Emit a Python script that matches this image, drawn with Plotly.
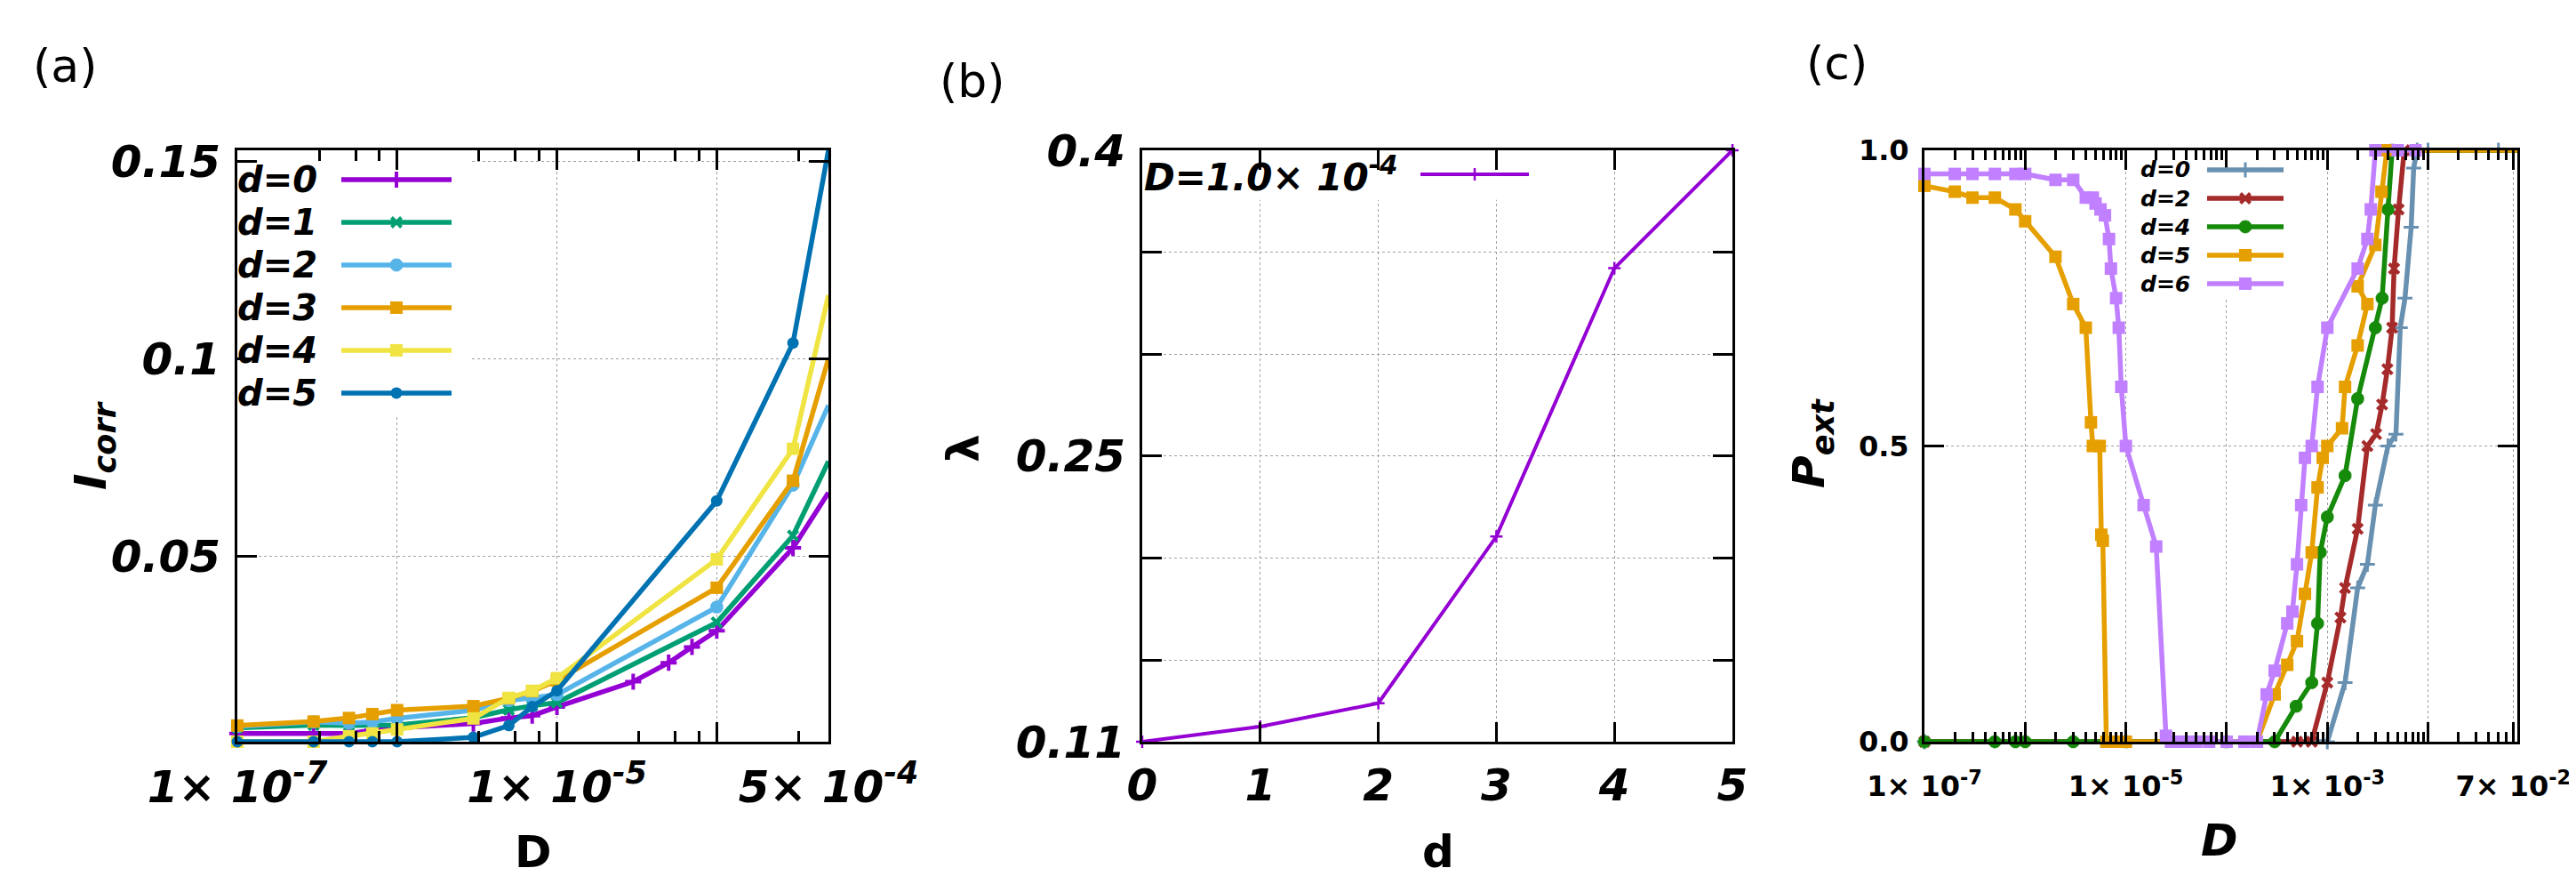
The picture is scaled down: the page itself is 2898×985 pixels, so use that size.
import math
import plotly.graph_objects as go

W, H = 2898, 985

# ---------------- Panel (a) data ----------------
D_a = [1e-7, 3e-7, 5e-7, 7e-7, 1e-6, 3e-6, 5e-6, 7e-6, 1e-5, 1e-4, 3e-4, 5e-4]
D_a0 = [1e-7, 3e-7, 5e-7, 7e-7, 1e-6, 3e-6, 5e-6, 7e-6, 1e-5, 3e-5, 5e-5, 7e-5, 1e-4, 3e-4, 5e-4]
I_d0 = [0.0051, 0.0051, 0.0051, 0.0059, 0.0065, 0.0076, 0.0090, 0.0096, 0.0118, 0.0182, 0.0230, 0.0270, 0.0311, 0.0521, 0.0661]
I_d1 = [0.0065, 0.0072, 0.0071, 0.0071, 0.0072, 0.0091, 0.0111, 0.0121, 0.0129, 0.0332, 0.0552, 0.0740]
I_d2 = [0.0068, 0.0080, 0.0077, 0.0080, 0.0089, 0.0110, 0.0134, 0.0141, 0.0149, 0.0371, 0.0680, 0.0882]
I_d3 = [0.0071, 0.0081, 0.0090, 0.0100, 0.0110, 0.0120, 0.0140, 0.0158, 0.0185, 0.0420, 0.0691, 0.1000]
I_d4 = [0.0030, 0.0030, 0.0044, 0.0051, 0.0061, 0.0089, 0.0141, 0.0159, 0.0191, 0.0492, 0.0772, 0.1161]
I_d5 = [0.0030, 0.0030, 0.0030, 0.0030, 0.0030, 0.0041, 0.0071, 0.0119, 0.0159, 0.0640, 0.1040, 0.1528]
labels_a = ["d=0", "d=1", "d=2", "d=3", "d=4", "d=5"]

# ---------------- Panel (b) data ----------------
d_b = [0, 1, 2, 3, 4, 5]
lam_b = [0.110, 0.1174, 0.1289, 0.2106, 0.3422, 0.400]
label_b = "D=1.0× 10<sup>-4</sup>"

# ---------------- Panel (c) data ----------------
D_c0 = [1e-7, 1e-3, 1.5e-3, 2e-3, 2.5e-3, 3e-3, 4e-3, 4.8e-3, 5.3e-3, 5.9e-3, 6.8e-3, 7.2e-3, 7.8e-3, 1e-2, 5e-2, 7.7e-2]
P_c0 = [0, 0, 0.10, 0.26, 0.30, 0.40, 0.50, 0.52, 0.70, 0.75, 0.87, 0.97, 1.0, 1.0, 1.0, 1.0]
D_c2 = [1e-7, 5e-4, 7e-4, 1e-3, 1.35e-3, 1.5e-3, 2e-3, 2.5e-3, 3.05e-3, 3.5e-3, 3.95e-3, 4.4e-3, 4.6e-3, 5.1e-3, 5.8e-3, 7.7e-2]
P_c2 = [0, 0, 0, 0.10, 0.21, 0.26, 0.36, 0.50, 0.52, 0.57, 0.63, 0.70, 0.80, 0.90, 1.0, 1.0]
D_c4 = [1e-7, 5e-7, 8e-7, 1e-6, 3e-6, 1e-5, 1e-4, 3e-4, 4.9e-4, 7e-4, 8e-4, 8.5e-4, 1e-3, 1.5e-3, 2e-3, 3e-3, 3.5e-3, 4e-3, 4.4e-3, 7.7e-2]
P_c4 = [0, 0, 0, 0, 0, 0, 0, 0, 0.06, 0.10, 0.20, 0.32, 0.38, 0.45, 0.58, 0.70, 0.75, 0.90, 1.0, 1.0]
D_c5 = [1e-7, 2e-7, 3e-7, 5e-7, 8e-7, 1e-6, 2e-6, 3e-6, 4e-6, 4.5e-6, 4.7e-6, 5.5e-6, 5.7e-6, 5.9e-6, 6.4e-6,
        7e-6, 8e-6, 9e-6, 1e-5, 2e-4, 3e-4, 4e-4, 5e-4, 6e-4, 7e-4, 8e-4, 9e-4, 1e-3, 1.4e-3, 1.5e-3,
        2e-3, 2.5e-3, 2e-3, 3e-3, 3.45e-3, 3.9e-3, 7.7e-2]
P_c5 = [0.94, 0.93, 0.92, 0.92, 0.90, 0.88, 0.82, 0.74, 0.70, 0.54, 0.50, 0.50, 0.35, 0.34, 0,
        0, 0, 0, 0, 0, 0.08, 0.13, 0.17, 0.25, 0.32, 0.43, 0.48, 0.50, 0.53, 0.60,
        0.67, 0.74, 0.77, 0.84, 0.93, 1.0, 1.0]
D_c6 = [1e-7, 2e-7, 3e-7, 5e-7, 8e-7, 1e-6, 2e-6, 3e-6, 4e-6, 4.7e-6, 5e-6, 5.6e-6, 6.2e-6, 6.8e-6, 7.1e-6,
        8e-6, 8.5e-6, 9e-6, 1e-5, 1.5e-5, 2e-5, 2.5e-5, 2.8e-5, 3.3e-5, 4e-5, 5e-5, 6.7e-5, 1e-4, 1.5e-4, 2e-4,
        2.5e-4, 3e-4, 4e-4, 4.5e-4, 5e-4, 5.5e-4, 6e-4, 7e-4, 8e-4, 1e-3, 2e-3, 2.5e-3, 2.7e-3, 3e-3, 5e-3, 7.5e-3]
P_c6 = [0.96, 0.96, 0.96, 0.96, 0.96, 0.96, 0.95, 0.95, 0.92, 0.92, 0.91, 0.90, 0.89, 0.85, 0.80,
        0.75, 0.70, 0.60, 0.50, 0.40, 0.33, 0.01, 0, 0, 0, 0, 0, 0, 0, 0,
        0.08, 0.12, 0.20, 0.22, 0.30, 0.40, 0.48, 0.50, 0.60, 0.70, 0.80, 0.85, 0.90, 1.0, 1.0, 1.0]
labels_c = ["d=0", "d=2", "d=4", "d=5", "d=6"]

# ---------------- styles ----------------
FONT = "DejaVu Sans"
cols_a = ["#9400d3", "#009e73", "#56b4e9", "#e69f00", "#f0e442", "#0072b2"]
syms_a = [("cross-thin", 13, 4), ("x-thin", 11, 4), ("asterisk", 12, 5),
          ("square", 14, 0), ("square", 14, 0), ("circle", 13, 0)]
cols_c = ["#6890b0", "#a52a2a", "#168a0a", "#e69f00", "#c080ff"]
syms_c = [("cross-thin", 12, 3), ("x-thin", 11, 4), ("asterisk", 12, 5),
          ("square", 14, 0), ("square", 14, 0)]

fig = go.Figure()

def add(x, y, col, sym, xa, ya, leg, lw):
    s, sz, mlw = sym
    fig.add_trace(go.Scatter(
        x=x, y=y, mode="lines+markers", name=" ", xaxis=xa, yaxis=ya, legend=leg,
        line=dict(color=col, width=lw), cliponaxis=False,
        marker=dict(symbol=s, size=sz, color=col, line=dict(color=col, width=mlw))))

series_a = [(D_a0, I_d0), (D_a, I_d1), (D_a, I_d2), (D_a, I_d3), (D_a, I_d4), (D_a, I_d5)]
for (x, y), c, s in zip(series_a, cols_a, syms_a):
    add(x, y, c, s, "x", "y", "legend", 5.5)

add(d_b, lam_b, "#9400d3", ("cross-thin", 10, 2.5), "x2", "y2", "legend2", 4)

series_c = [(D_c0, P_c0), (D_c2, P_c2), (D_c4, P_c4), (D_c5, P_c5), (D_c6, P_c6)]
for (x, y), c, s in zip(series_c, cols_c, syms_c):
    add(x, y, c, s, "x3", "y3", "legend3", 5.5)

# ---------------- axes ----------------
def px_x(p):
    return p / W

def px_y(p):
    return 1 - p / H

TOP, BOT = 161, 826
ydom = [px_y(BOT), px_y(TOP)]

def axis(**kw):
    d = dict(showline=True, linecolor="black", linewidth=3, mirror="ticks",
             ticks="inside", ticklen=22, tickwidth=3, tickcolor="black",
             showgrid=True, gridcolor="#a0a0a0", griddash="dot", gridwidth=1,
             zeroline=False, tickmode="array", automargin=False)
    d.update(kw)
    return d

f_bi50 = dict(family=FONT, size=50, color="black", weight="bold", style="italic")
f_b32 = dict(family=FONT, size=32, color="black", weight="bold", style="normal")

xr_a = [-7, math.log10(5e-4)]
yr_a = [0.003, 0.1528]
xr_b = [0, 5]
yr_b = [0.11, 0.4]
xr_c = [-7, math.log10(7.7e-2)]
yr_c = [0, 1]

minor_a = [k * 10.0 ** e for e in range(-7, -3) for k in (3.25, 5.5, 7.75) if k * 10.0 ** e < 5e-4]
minor_c = [k * 10.0 ** e for e in range(-7, -1) for k in range(2, 10)
           if k * 10.0 ** e < 0.077 and not (e == -2 and k == 7)]

fig.update_layout(
    xaxis=axis(type="log", domain=[px_x(259), px_x(924)], anchor="y", range=xr_a,
               tickvals=[1e-7, 1e-6, 1e-5, 1e-4, 5e-4],
               ticktext=["1× 10<sup>-7</sup>", "", "1× 10<sup>-5</sup>", "", "5× 10<sup>-4</sup>"],
               tickfont=f_bi50, ticklabelstandoff=5,
               minor=dict(tickmode="array", tickvals=minor_a, ticks="inside", ticklen=12,
                          tickwidth=3, tickcolor="black", showgrid=False)),
    yaxis=axis(domain=ydom, anchor="x", range=yr_a,
               tickvals=[0.05, 0.1, 0.15], ticktext=["0.05", "0.1", "0.15"],
               tickfont=f_bi50, ticklabelstandoff=6),
    xaxis2=axis(domain=[px_x(1277), px_x(1941)], anchor="y2", range=xr_b,
                tickvals=[0, 1, 2, 3, 4, 5], ticktext=["0", "1", "2", "3", "4", "5"],
                tickfont=f_bi50, ticklabelstandoff=3),
    yaxis2=axis(domain=ydom, anchor="x2", range=yr_b,
                tickvals=[0.11, 0.15, 0.2, 0.25, 0.3, 0.35, 0.4],
                ticktext=["0.11", "", "", "0.25", "", "", "0.4"],
                tickfont=f_bi50, ticklabelstandoff=6),
    xaxis3=axis(type="log", domain=[px_x(2157), px_x(2824)], anchor="y3", range=xr_c,
                tickvals=[1e-7, 1e-6, 1e-5, 1e-4, 1e-3, 1e-2, 7e-2],
                ticktext=["1× 10<sup>-7</sup>", "", "1× 10<sup>-5</sup>", "", "1× 10<sup>-3</sup>", "",
                          "7× 10<sup>-2</sup>"],
                tickfont=f_b32, ticklabelstandoff=20,
                minor=dict(tickmode="array", tickvals=minor_c, ticks="inside", ticklen=11,
                           tickwidth=3, tickcolor="black", showgrid=False)),
    yaxis3=axis(domain=ydom, anchor="x3", range=yr_c,
                tickvals=[0, 0.5, 1], ticktext=["0.0", "0.5", "1.0"],
                tickfont=f_b32, ticklabelstandoff=8),
)

# ---------------- legends (samples) ----------------
def leg(x_left, y_top, fsize, itemw):
    return dict(x=px_x(x_left), y=px_y(y_top), xanchor="left", yanchor="top",
                bgcolor="rgba(0,0,0,0)", borderwidth=0, itemwidth=itemw,
                font=dict(family=FONT, size=fsize), tracegroupgap=0, itemclick=False,
                itemdoubleclick=False)

fig.update_layout(
    legend=leg(371, 165, 34.6, 124),
    legend2=leg(1585, 162, 30, 122),
    legend3=leg(2470, 162, 22.3, 86),
)

annos = []
f_leg_a = dict(family=FONT, size=40, color="black", weight="bold", style="italic")
for i, t in enumerate(labels_a):
    annos.append(dict(text=t, x=px_x(351), y=px_y(194 + 48 * i), xref="paper", yref="paper",
                      xanchor="right", yanchor="middle", showarrow=False, font=f_leg_a))
annos.append(dict(text=label_b, x=px_x(1566), y=px_y(188), xref="paper", yref="paper",
                  xanchor="right", yanchor="middle", showarrow=False,
                  font=dict(family=FONT, size=42, color="black", weight="bold", style="italic")))
f_leg_c = dict(family=FONT, size=25, color="black", weight="bold", style="italic")
for i, t in enumerate(labels_c):
    annos.append(dict(text=t, x=px_x(2458), y=px_y(183 + 32 * i), xref="paper", yref="paper",
                      xanchor="right", yanchor="middle", showarrow=False, font=f_leg_c))

def title(text, x, y, font, angle=0):
    annos.append(dict(text=text, x=px_x(x), y=px_y(y), xref="paper", yref="paper",
                      xanchor="center", yanchor="middle", showarrow=False, textangle=angle,
                      font=font))

f_b50 = dict(family=FONT, size=50, color="black", weight="bold", style="normal")
f_reg = dict(family=FONT, size=52, color="black", weight="normal", style="normal")
title("D", 592, 950, f_b50)
title("I<sub>corr</sub>", 97, 493, f_bi50, -90)
title("d", 1610, 950, f_b50)
title("λ", 1076, 496, f_b50, -90)
title("D", 2489, 937, f_bi50)
title("P<sub>ext</sub>", 2030, 491, f_bi50, -90)
title("(a)", 65, 66, f_reg)
title("(b)", 1086, 83, f_reg)
title("(c)", 2058, 63, f_reg)

# opaque key areas (hide grid behind keys), given as fractions of each plot area
def log_at(r, f):
    return 10 ** (r[0] + f * (r[1] - r[0]))

def lin_at(r, f):
    return r[0] + f * (r[1] - r[0])

def key_rect(xa, ya, x0, x1, y0, y1):
    return dict(type="rect", xref=xa, yref=ya, x0=x0, x1=x1, y0=y0, y1=y1,
                fillcolor="white", line=dict(width=0), layer="between")

shapes = [
    key_rect("x", "y", log_at(xr_a, 0.0), log_at(xr_a, 0.397), lin_at(yr_a, 0.553), lin_at(yr_a, 1.0)),
    key_rect("x2", "y2", lin_at(xr_b, 0.0), lin_at(xr_b, 0.667), lin_at(yr_b, 0.916), lin_at(yr_b, 1.0)),
    key_rect("x3", "y3", log_at(xr_c, 0.342), log_at(xr_c, 0.627), lin_at(yr_c, 0.749), lin_at(yr_c, 1.0)),
]

fig.update_layout(template="none", width=W, height=H, autosize=False,
                  margin=dict(l=0, r=0, t=0, b=0, pad=0, autoexpand=False),
                  paper_bgcolor="white", plot_bgcolor="white",
                  annotations=annos, shapes=shapes, showlegend=True)

fig.write_html("out.html")
